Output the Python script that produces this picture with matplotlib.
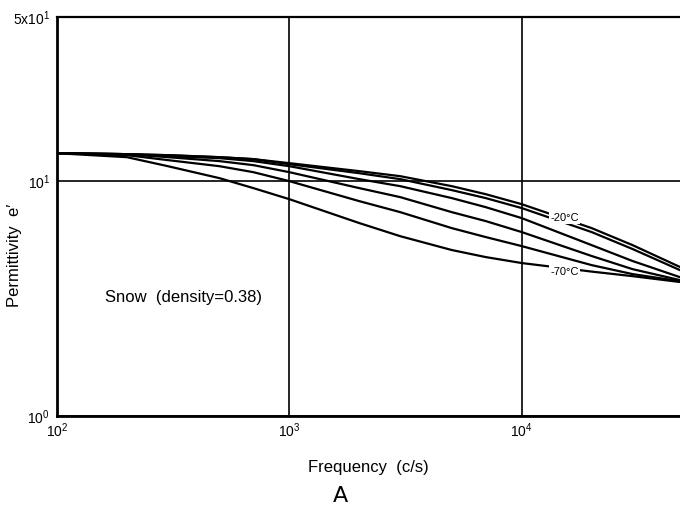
import numpy as np
import matplotlib
matplotlib.use('Agg')
import matplotlib.pyplot as plt

plt.rcParams['font.family'] = ['Liberation Sans', 'DejaVu Sans']
plt.rcParams['mathtext.fontset'] = 'custom'
plt.rcParams['mathtext.rm'] = 'Liberation Sans'
plt.rcParams['mathtext.it'] = 'Liberation Sans'

# frequency (c/s)
freq = [100, 200, 300, 500, 700, 1000, 2000, 3000, 5000, 7000, 10000, 20000, 30000, 48000]

# permittivity e' for snow (density 0.38) at several temperatures
eps_m20 = [13.15, 13.03, 12.90, 12.65, 12.41, 11.93, 11.03, 10.50, 9.52, 8.80, 7.98, 6.31, 5.34, 4.31]
eps_m30 = [13.15, 13.03, 12.90, 12.65, 12.41, 11.81, 10.81, 10.20, 9.16, 8.47, 7.68, 6.07, 5.14, 4.18]
eps_m40 = [13.15, 13.03, 12.78, 12.53, 12.17, 11.58, 10.20, 9.52, 8.47, 7.75, 6.96, 5.34, 4.57, 3.90]
eps_m50 = [13.15, 13.03, 12.65, 12.17, 11.70, 10.92, 9.34, 8.55, 7.38, 6.76, 6.07, 4.80, 4.22, 3.79]
eps_m60 = [13.15, 12.90, 12.29, 11.58, 10.92, 10.00, 8.22, 7.38, 6.31, 5.78, 5.29, 4.39, 4.02, 3.75]
eps_m70 = [13.15, 12.65, 11.58, 10.30, 9.34, 8.38, 6.63, 5.83, 5.09, 4.75, 4.48, 4.12, 3.94, 3.72]

series = [eps_m20, eps_m30, eps_m40, eps_m50, eps_m60, eps_m70]

fig = plt.figure(figsize=(6.8, 5.09), dpi=100)
ax = fig.add_axes([57/680, 93/509, 623/680, 399/509])

for s in series:
    ax.plot(freq, s, color='black', lw=1.6, solid_joinstyle='round')

ax.set_xscale('log')
ax.set_yscale('log')
ax.set_xlim(100, 4.8e4)
ax.set_ylim(1, 50)

ax.set_xticks([1e2, 1e3, 1e4])
ax.set_xticklabels([r'$10^2$', r'$10^3$', r'$10^4$'])
ax.set_yticks([1, 10, 50])
ax.set_yticklabels([r'$10^0$', r'$10^1$', r'$5\mathregular{x}10^1$'])
ax.minorticks_off()
ax.tick_params(length=0, labelsize=10)
ax.tick_params(axis='y', pad=5)
ax.tick_params(axis='x', pad=4)

ax.grid(True, color='black', lw=1.2)
ax.set_axisbelow(True)

ax.spines['right'].set_visible(False)
ax.spines['left'].set_linewidth(2)
ax.spines['bottom'].set_linewidth(2)
ax.spines['top'].set_linewidth(1.6)

ax.text(1.53e4, 6.95, '-20°C', fontsize=8, ha='center', va='center',
        bbox=dict(facecolor='white', edgecolor='none', pad=0.8))
ax.text(1.53e4, 4.12, '-70°C', fontsize=8, ha='center', va='center',
        bbox=dict(facecolor='white', edgecolor='none', pad=0.8))

ax.text(161, 3.21, 'Snow  (density=0.38)', fontsize=12, ha='left', va='center')

fig.text(15/680, 1 - 255/509, "Permittivity  e\u2032", fontsize=12,
         rotation=90, ha='center', va='center')
ax.set_xlabel('Frequency  (c/s)', fontsize=12, labelpad=14)

fig.text(340/680, 1 - 496/509, 'A', fontsize=16, ha='center', va='center',
         family='DejaVu Sans')

fig.savefig('out.png', dpi=100)
